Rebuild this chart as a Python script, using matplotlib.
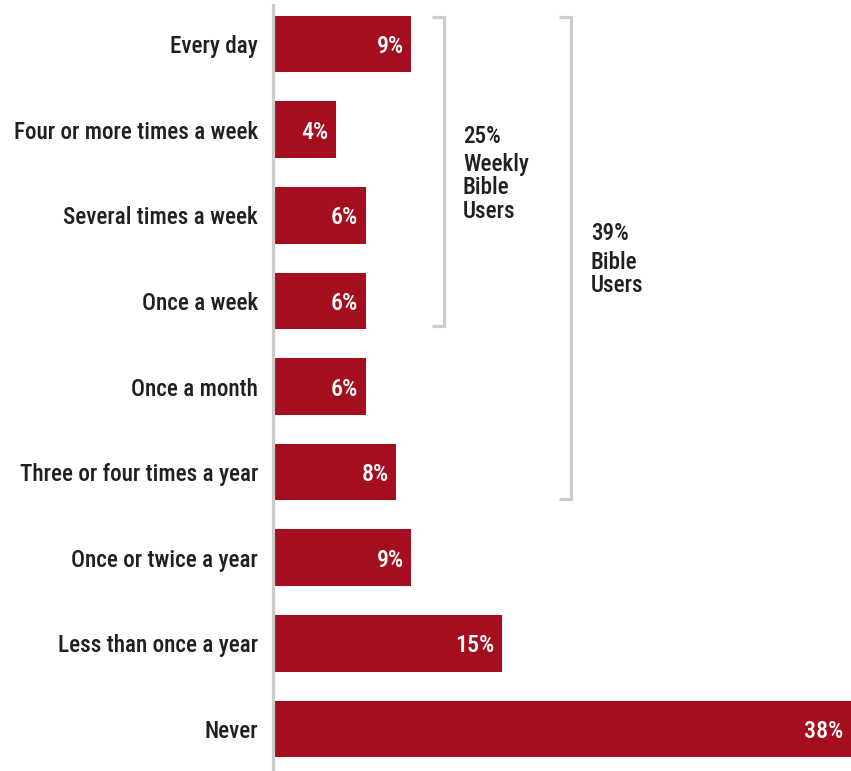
import matplotlib
matplotlib.use("Agg")
import matplotlib.pyplot as plt
from matplotlib.lines import Line2D
from matplotlib import font_manager

categories = [
    "Every day",
    "Four or more times a week",
    "Several times a week",
    "Once a week",
    "Once a month",
    "Three or four times a year",
    "Once or twice a year",
    "Less than once a year",
    "Never",
]
values = [9, 4, 6, 6, 6, 8, 9, 15, 38]
value_labels = ["9%", "4%", "6%", "6%", "6%", "8%", "9%", "15%", "38%"]

weekly_pct = "25%"
weekly_words = "Weekly\nBible\nUsers"
users_pct = "39%"
users_words = "Bible\nUsers"

# condensed sans-serif, first one available
preferred = ["Roboto Condensed", "Archivo Narrow", "Fira Sans Condensed",
             "IBM Plex Sans Condensed", "PT Sans Narrow", "Pragati Narrow",
             "Liberation Sans Narrow", "Barlow Semi Condensed"]
names = {f.name for f in font_manager.fontManager.ttflist}
family = next((n for n in preferred if n in names), "DejaVu Sans")
plt.rcParams["font.family"] = [family, "DejaVu Sans"]
plt.rcParams["font.stretch"] = "condensed"

BAR = "#A50E1E"
GREY = "#CCCCCC"
TEXT = "#231F20"
WEIGHT = "medium"

W, H = 851, 771
ROW = 85.6
fig = plt.figure(figsize=(W / 100, H / 100), dpi=100)
ax = fig.add_axes([275 / W, 0, 1 - 275 / W, 1])

pos = list(range(len(categories)))
ax.barh(pos, values, height=0.66, color=BAR, left=0)
ax.set_xlim(0, 38)
ax.set_ylim(8 + 42 / ROW, -44 / ROW)
ax.axis("off")

fs_cat = 16.7
fs_val = 17.3
dy = 2.5 / ROW
for p, v, lab, cat in zip(pos, values, value_labels, categories):
    ax.text(v - 0.5, p + dy, lab, ha="right", va="center", color="white",
            fontsize=fs_val, fontweight=WEIGHT)
    ax.text(-1.12, p + dy, cat, ha="right", va="center", color=TEXT,
            fontsize=fs_cat, fontweight=WEIGHT)

# vertical axis rule
fig.add_artist(Line2D([273.3 / W, 273.3 / W], [0, 1 - 5 / H], color=GREY,
                      lw=2.3, transform=fig.transFigure))


def bracket(x_px, tick_px, top_row, bottom_row, pad_top, pad_bottom):
    px_per_unit = (W - 275) / 38
    xv = (x_px - 275) / px_per_unit
    xt = (tick_px - 275) / px_per_unit
    y0 = top_row - pad_top
    y1 = bottom_row + pad_bottom
    ax.plot([xt, xv, xv, xt], [y0, y0, y1, y1], color=GREY, lw=2.3,
            solid_joinstyle="miter", solid_capstyle="butt", clip_on=False)


bracket(444.3, 432, 0, 3, 0.31, 0.295)
bracket(571.3, 558.7, 0, 5, 0.31, 0.315)


def group_label(x_px, pct_base_px, last_base_px, pct, words):
    # percentage line, then the word lines (baseline of the last line given)
    fig.text(x_px / W, 1 - pct_base_px / H, pct, ha="left", va="baseline",
             color=TEXT, fontsize=fs_cat, fontweight=WEIGHT)
    fig.text(x_px / W, 1 - last_base_px / H, words, ha="left",
             va="baseline", color=TEXT, fontsize=fs_cat, fontweight=WEIGHT,
             linespacing=1.03)


group_label(463, 143, 218, weekly_pct, weekly_words)
group_label(591, 240, 292.5, users_pct, users_words)

fig.savefig("out.png", dpi=100)
